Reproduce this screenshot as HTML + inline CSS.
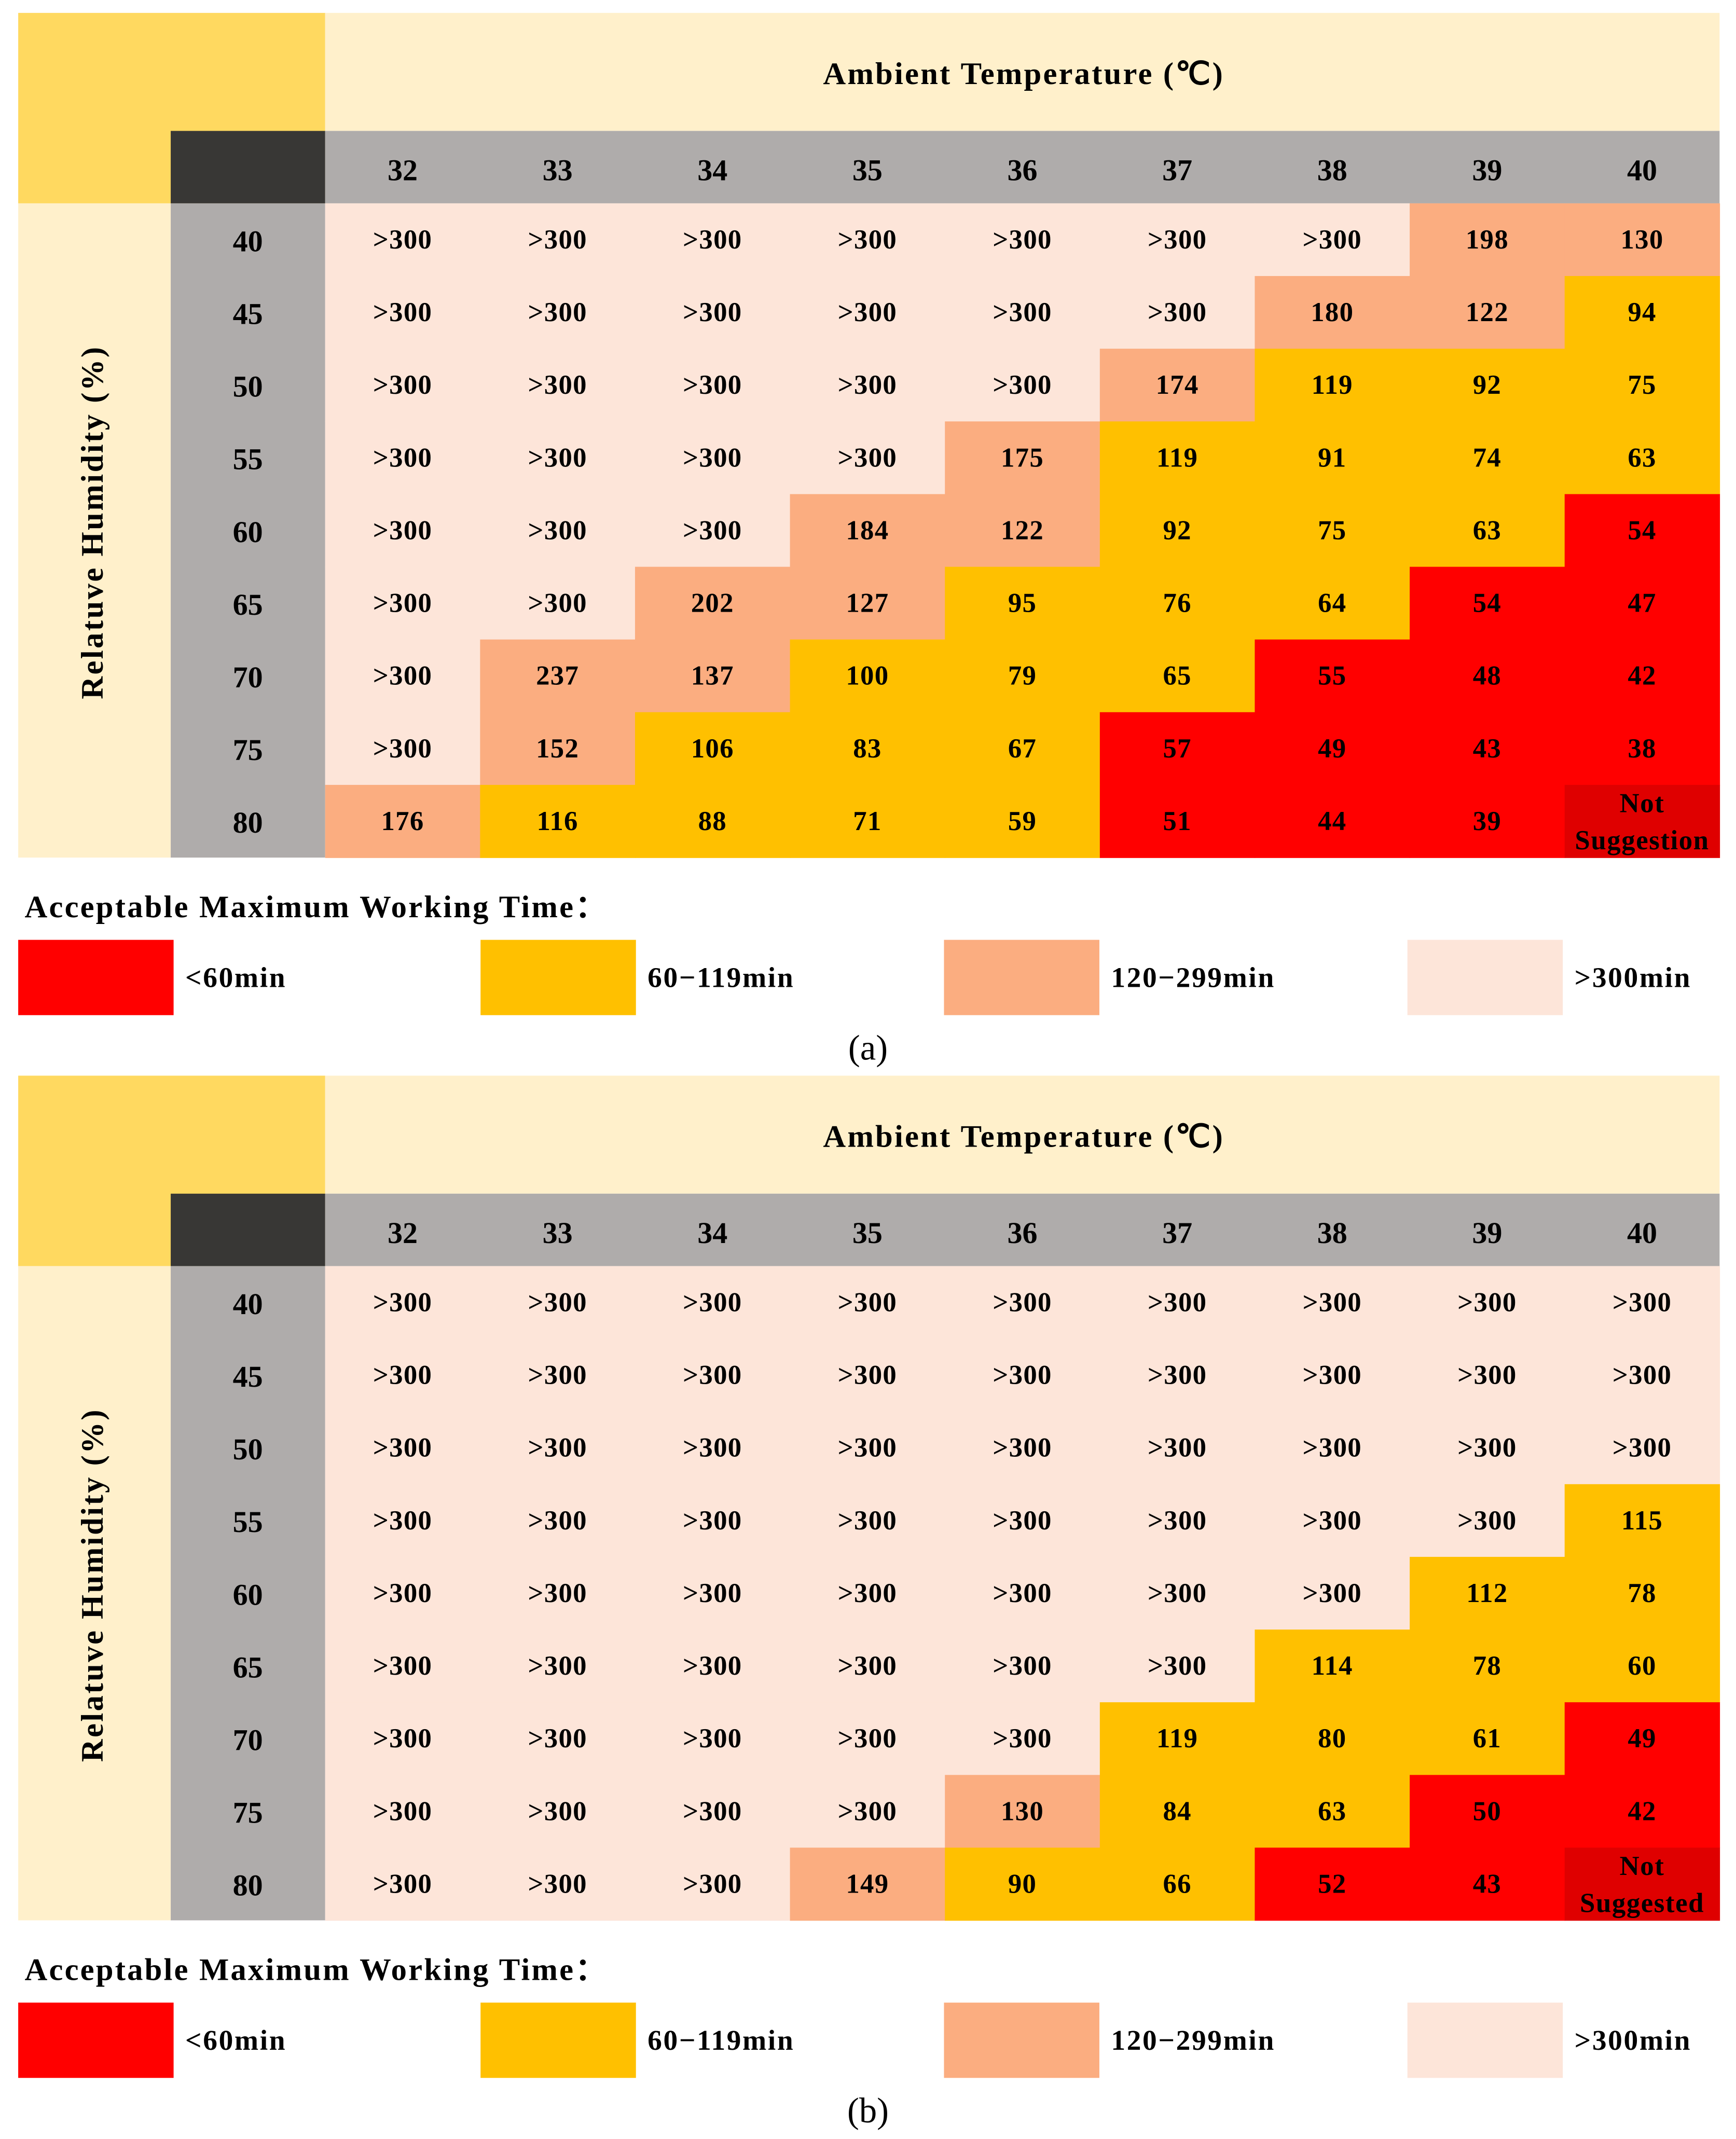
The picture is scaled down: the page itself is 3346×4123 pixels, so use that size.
<!DOCTYPE html>
<html><head><meta charset="utf-8"><style>
html,body{margin:0;padding:0;background:#fff}
svg{display:block}
text{font-family:"Liberation Serif",serif;font-weight:bold;fill:#000}
</style></head><body>
<svg id="chart" xmlns="http://www.w3.org/2000/svg" width="3346" height="4123" viewBox="0 0 1268 1562.4"></svg>
<script>
const temps = [32,33,34,35,36,37,38,39,40];
const humidities = [40,45,50,55,60,65,70,75,80];
const panelA = [
 ['>300','>300','>300','>300','>300','>300','>300','198','130'],
 ['>300','>300','>300','>300','>300','>300','180','122','94'],
 ['>300','>300','>300','>300','>300','174','119','92','75'],
 ['>300','>300','>300','>300','175','119','91','74','63'],
 ['>300','>300','>300','184','122','92','75','63','54'],
 ['>300','>300','202','127','95','76','64','54','47'],
 ['>300','237','137','100','79','65','55','48','42'],
 ['>300','152','106','83','67','57','49','43','38'],
 ['176','116','88','71','59','51','44','39','NS']
];
// category per cell: 0 <60, 1 60-119, 2 120-299, 3 >300, 4 not suggested
const catsA = [
 [3,3,3,3,3,3,3,2,2],
 [3,3,3,3,3,3,2,2,1],
 [3,3,3,3,3,2,1,1,1],
 [3,3,3,3,2,1,1,1,1],
 [3,3,3,2,2,1,1,1,0],
 [3,3,2,2,1,1,1,0,0],
 [3,2,2,1,1,1,0,0,0],
 [3,2,1,1,1,0,0,0,0],
 [2,1,1,1,1,0,0,0,4]
];
const panelB = [
 ['>300','>300','>300','>300','>300','>300','>300','>300','>300'],
 ['>300','>300','>300','>300','>300','>300','>300','>300','>300'],
 ['>300','>300','>300','>300','>300','>300','>300','>300','>300'],
 ['>300','>300','>300','>300','>300','>300','>300','>300','115'],
 ['>300','>300','>300','>300','>300','>300','>300','112','78'],
 ['>300','>300','>300','>300','>300','>300','114','78','60'],
 ['>300','>300','>300','>300','>300','119','80','61','49'],
 ['>300','>300','>300','>300','130','84','63','50','42'],
 ['>300','>300','>300','149','90','66','52','43','NS']
];
const catsB = [
 [3,3,3,3,3,3,3,3,3],
 [3,3,3,3,3,3,3,3,3],
 [3,3,3,3,3,3,3,3,3],
 [3,3,3,3,3,3,3,3,1],
 [3,3,3,3,3,3,3,1,1],
 [3,3,3,3,3,3,1,1,1],
 [3,3,3,3,3,1,1,1,0],
 [3,3,3,3,2,1,1,0,0],
 [3,3,3,2,1,1,0,0,4]
];
const nsLabels = [['Not','Suggestion'],['Not','Suggested']];
const legendLabels = ['<60min','60\u2212119min','120\u2212299min','>300min'];
const legendColors = ['#FF0000','#FFC000','#FBAD80','#FDE5D9','#DF0000'];
const panelLetters = ['(a)','(b)'];

const svg = document.getElementById('chart');
const NS='http://www.w3.org/2000/svg';
function mk(tag, attrs, parent){const e=document.createElementNS(NS,tag);for(const k in attrs)e.setAttribute(k,attrs[k]);(parent||svg).appendChild(e);return e;}
const X0=237.5, X1=1256, CW=(X1-X0)/temps.length;
const RH=53.1;
function xCol(i){return X0+i*CW;}

[[panelA,catsA],[panelB,catsB]].forEach(([data,cats],p)=>{
  const oy=p*776.3;
  const g=mk('g',{});
  
  
  const top=9.4+oy, hdr=95.6+oy, r0=148.5+oy;
  let e;
  e=mk('rect',{x:13.3,y:top,width:X0-13.3,height:r0-top,fill:'#FFD960'},g);
  
  e=mk('rect',{x:X0,y:top,width:X1-X0,height:hdr-top,fill:'#FFF0CB'},g);
  
  e=mk('text',{x:(X0+X1)/2+1,y:top+52,'text-anchor':'middle','font-size':23,'letter-spacing':1.2},g);
  e.textContent='Ambient Temperature (\u2103)';
  
  e=mk('rect',{x:124.7,y:hdr,width:X0-124.7,height:r0-hdr,fill:'#383735'},g);
  
  e=mk('rect',{x:X0,y:hdr,width:X1-X0,height:r0-hdr,fill:'#AFACAB'},g);
  
  temps.forEach((t,i)=>{
    const tx=mk('text',{x:xCol(i)+CW/2,y:hdr+36,'text-anchor':'middle','font-size':22},g);
    tx.textContent=t;
    
    
  });
  const rEnd=r0+RH*humidities.length;
  e=mk('rect',{x:13.3,y:r0,width:124.7-13.3,height:rEnd-r0,fill:'#FFF0CB'},g);
  
  e=mk('text',{x:0,y:0,'text-anchor':'middle','font-size':23,'letter-spacing':1.3,transform:`translate(75,${(r0+rEnd)/2-6}) rotate(-90)`},g);
  e.textContent='Relatuve Humidity (%)';
  
  e=mk('rect',{x:124.7,y:r0,width:X0-124.7,height:rEnd-r0,fill:'#AFACAB'},g);
  
  humidities.forEach((h,r)=>{
    const ty=r0+r*RH;
    const tx=mk('text',{x:181,y:ty+35,'text-anchor':'middle','font-size':22},g);
    tx.textContent=h;
    
    
    data[r].forEach((v,c)=>{
      const cell=mk('rect',{x:xCol(c),y:ty,width:CW+0.3,height:RH+0.3,fill:legendColors[cats[r][c]]},g);
      
      
      if(v==='NS'){
        nsLabels[p].forEach((w,k)=>{
          const t2=mk('text',{x:xCol(c)+CW/2,y:ty+20+k*27,'text-anchor':'middle','font-size':20,'letter-spacing':0.6},g);
          t2.textContent=w;
          
          
        });
      } else {
        const t2=mk('text',{x:xCol(c)+CW/2,y:ty+33,'text-anchor':'middle','font-size':20,'letter-spacing':0.5},g);
        t2.textContent=v;
        
        
      }
    });
  });
  e=mk('text',{x:18,y:670+oy,'font-size':23,'letter-spacing':1.2},g);
  e.textContent='Acceptable Maximum Working Time\uFF1A';
  
  const lx=[13.3,351,689.5,1028];
  legendLabels.forEach((lab,i)=>{
    const sw=mk('rect',{x:lx[i],y:686.5+oy,width:113.5,height:55,fill:legendColors[i]},g);
    
    
    const lt=mk('text',{x:lx[i]+122,y:721+oy,'font-size':21,'letter-spacing':1.0},g);
    lt.textContent=lab;
    
    
  });
  e=mk('text',{x:634,y:774+oy,'text-anchor':'middle','font-size':26,style:'font-weight:normal'},g);
  e.textContent=panelLetters[p];
  
});
</script>
</body></html>
